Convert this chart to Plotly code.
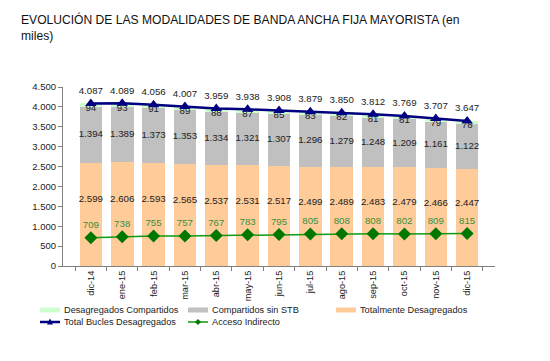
import plotly.graph_objects as go

meses = ["dic-14", "ene-15", "feb-15", "mar-15", "abr-15", "may-15", "jun-15",
         "jul-15", "ago-15", "sep-15", "oct-15", "nov-15", "dic-15"]
totalmente = [2599, 2606, 2593, 2565, 2537, 2531, 2517, 2499, 2489, 2483, 2479, 2466, 2447]
compartidos_sin_stb = [1394, 1389, 1373, 1353, 1334, 1321, 1307, 1296, 1279, 1248, 1209, 1161, 1122]
desag_compartidos = [94, 93, 91, 89, 88, 87, 85, 83, 82, 81, 81, 79, 78]
total_bucles = [4087, 4089, 4056, 4007, 3959, 3938, 3908, 3879, 3850, 3812, 3769, 3707, 3647]
acceso_indirecto = [709, 738, 755, 757, 767, 783, 795, 805, 808, 808, 802, 809, 815]

def fmt(v):
    return f"{v:,}".replace(",", ".")

FONT = "Arial, Liberation Sans, sans-serif"
W, H = 550, 361
ML, MR, MT, MB = 63, 55, 87, 95
PW, PH = W - ML - MR, H - MT - MB
FS = 9.2

C_ORANGE, C_GRAY, C_LGREEN = "#FFCC99", "#C0C0C0", "#CCFFCC"
C_NAVY, C_GREEN = "#000080", "#119911"

fig = go.Figure()

fig.add_bar(x=meses, y=totalmente, name="Totalmente Desagregados",
            marker=dict(color=C_ORANGE, line=dict(width=0)))
fig.add_bar(x=meses, y=compartidos_sin_stb, name="Compartidos sin STB",
            marker=dict(color=C_GRAY, line=dict(width=0)))
fig.add_bar(x=meses, y=desag_compartidos, name="Desagregados Compartidos",
            marker=dict(color=C_LGREEN, line=dict(width=0)))

lab = dict(size=FS + 0.5, color="#222222", family=FONT)
fig.add_scatter(x=meses, y=[v * 0.64 for v in totalmente], mode="text",
                text=[fmt(v) for v in totalmente], textfont=lab, hoverinfo="skip",
                cliponaxis=False)
fig.add_scatter(x=meses, y=[a + b / 2 for a, b in zip(totalmente, compartidos_sin_stb)],
                mode="text", text=[fmt(v) for v in compartidos_sin_stb], textfont=lab,
                hoverinfo="skip", cliponaxis=False)
fig.add_scatter(x=meses, y=total_bucles, mode="text", textposition="bottom center",
                text=[fmt(v) for v in desag_compartidos], textfont=lab,
                hoverinfo="skip", cliponaxis=False)

fig.add_scatter(x=meses, y=total_bucles, name="Total Bucles Desagregados",
                mode="lines+markers+text", textposition="top center",
                text=[fmt(v) for v in total_bucles], textfont=lab, cliponaxis=False,
                line=dict(color=C_NAVY, width=2.5),
                marker=dict(symbol="triangle-up", size=10, color=C_NAVY))
fig.add_scatter(x=meses, y=acceso_indirecto, name="Acceso Indirecto",
                mode="lines+markers+text", textposition="top center",
                text=[fmt(v) for v in acceso_indirecto], cliponaxis=False,
                textfont=dict(size=FS + 0.5, color="#3A8F3A", family=FONT),
                line=dict(color=C_GREEN, width=1.5),
                marker=dict(symbol="diamond", size=10, color="#007700"))

# manual legend (pixel positions converted to paper coords)
def px(x):
    return (x - ML) / PW

def py(y):
    return (H - MB - y) / PH

shapes, annots = [], []
legend_rows = [
    [(40, "Desagregados Compartidos", "box", C_LGREEN),
     (188, "Compartidos sin STB", "box", C_GRAY),
     (336, "Totalmente Desagregados", "box", C_ORANGE)],
    [(40, "Total Bucles Desagregados", "tri", C_NAVY),
     (188, "Acceso Indirecto", "dia", C_GREEN)],
]
row_y = [310, 322]
for ry, row in zip(row_y, legend_rows):
    for x0, name, kind, col in row:
        if kind == "box":
            shapes.append(dict(type="rect", xref="paper", yref="paper",
                               x0=px(x0), x1=px(x0 + 20), y0=py(ry + 2.5), y1=py(ry - 2.5),
                               fillcolor=col, line=dict(width=0)))
        else:
            lw = 2.5 if kind == "tri" else 1.5
            shapes.append(dict(type="line", xref="paper", yref="paper",
                               x0=px(x0), x1=px(x0 + 20), y0=py(ry), y1=py(ry),
                               line=dict(color=col, width=lw)))
            cx = x0 + 10
            if kind == "tri":
                path = (f"M {px(cx-3)} {py(ry+2.5)} L {px(cx+3)} {py(ry+2.5)} "
                        f"L {px(cx)} {py(ry-3.5)} Z")
                fc = C_NAVY
            else:
                path = (f"M {px(cx-3)} {py(ry)} L {px(cx)} {py(ry-3)} "
                        f"L {px(cx+3)} {py(ry)} L {px(cx)} {py(ry+3)} Z")
                fc = "#007700"
            shapes.append(dict(type="path", xref="paper", yref="paper", path=path,
                               fillcolor=fc, line=dict(width=0)))
        annots.append(dict(xref="paper", yref="paper", x=px(x0 + 22), y=py(ry),
                           xanchor="left", yanchor="middle", text=name, showarrow=False,
                           font=dict(size=FS, family=FONT, color="#222222")))

# title as annotation (two lines)
annots.append(dict(xref="paper", yref="paper", x=px(19), y=py(10),
                   xanchor="left", yanchor="top", align="left", showarrow=False,
                   text="EVOLUCIÓN DE LAS MODALIDADES DE BANDA ANCHA FIJA MAYORISTA (en<br>miles)",
                   font=dict(size=12.1, family=FONT, color="#111111")))

fig.update_layout(
    width=W, height=H, barmode="stack", bargap=0.28,
    separators=",.", showlegend=False,
    paper_bgcolor="white", plot_bgcolor="white",
    font=dict(family=FONT, size=FS, color="#222222"),
    margin=dict(l=ML, r=MR, t=MT, b=MB, autoexpand=False),
    shapes=shapes, annotations=annots,
)
fig.update_yaxes(range=[0, 4500], dtick=500, tickformat=",d", showgrid=False,
                 showline=True, linecolor="#808080", linewidth=1, automargin=False,
                 ticks="outside", ticklen=4, tickcolor="#808080",
                 tickfont=dict(size=FS + 0.3, family=FONT), zeroline=False)
fig.update_xaxes(showline=True, linecolor="#808080", linewidth=1, automargin=False,
                 ticks="outside", ticklen=4, tickcolor="#808080", tickson="boundaries",
                 tickangle=-90, tickfont=dict(size=FS, family=FONT), showgrid=False)

fig.write_html("out.html", config={"displayModeBar": False},
               post_script="document.body.style.margin='0';")
